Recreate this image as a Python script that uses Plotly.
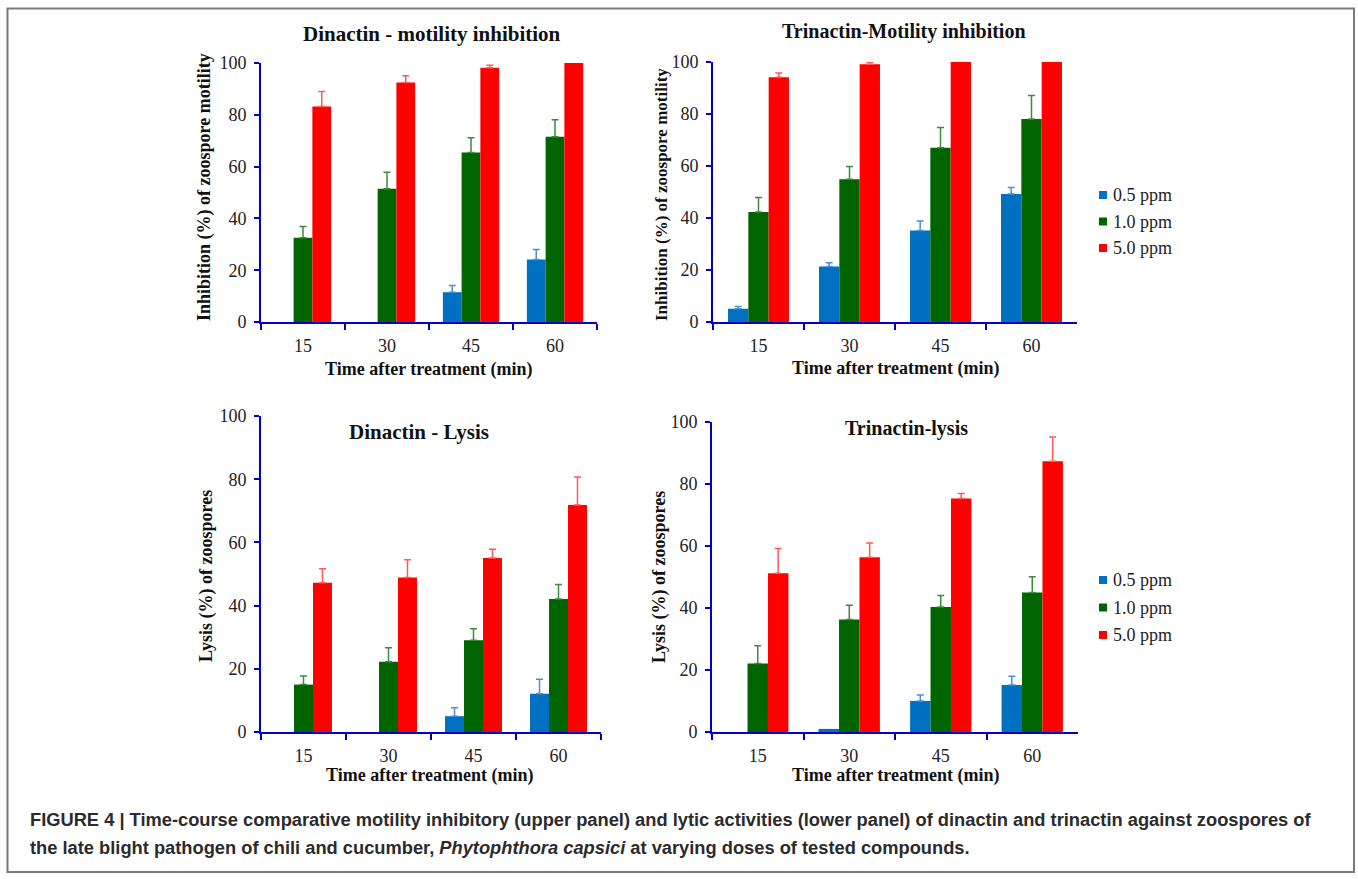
import numpy as np
import plotly.graph_objects as go

W, H = 1358, 879

# ---------------- data ----------------
times = ["15", "30", "45", "60"]
series = ["0.5 ppm", "1.0 ppm", "5.0 ppm"]

# Dinactin - motility inhibition
din_mot_05 = [0, 0, 11.5, 24.1]
din_mot_10 = [32.5, 51.4, 65.4, 71.5]
din_mot_50 = [83.2, 92.5, 98.2, 100]
din_mot_05_err = [None, None, 2.6, 3.9]
din_mot_10_err = [4.4, 6.4, 5.7, 6.6]
din_mot_50_err = [5.8, 2.6, 0.9, None]

# Trinactin - motility inhibition
tri_mot_05 = [5.1, 21.3, 35.2, 49.2]
tri_mot_10 = [42.3, 54.9, 67.0, 78.1]
tri_mot_50 = [94.1, 99.1, 100, 100]
tri_mot_05_err = [0.9, 1.5, 3.6, 2.5]
tri_mot_10_err = [5.6, 4.9, 7.8, 9.0]
tri_mot_50_err = [1.7, 0.8, None, None]

# Dinactin - lysis
din_lys_05 = [0, 0, 5.0, 12.1]
din_lys_10 = [15.0, 22.2, 29.0, 42.1]
din_lys_50 = [47.2, 48.9, 55.1, 71.8]
din_lys_05_err = [None, None, 2.7, 4.6]
din_lys_10_err = [2.7, 4.5, 3.7, 4.6]
din_lys_50_err = [4.5, 5.6, 2.7, 8.9]

# Trinactin - lysis
tri_lys_05 = [0, 1.0, 10.0, 15.2]
tri_lys_10 = [22.1, 36.3, 40.3, 45.0]
tri_lys_50 = [51.2, 56.4, 75.3, 87.3]
tri_lys_05_err = [None, None, 1.9, 2.8]
tri_lys_10_err = [5.7, 4.6, 3.7, 5.1]
tri_lys_50_err = [8.0, 4.6, 1.6, 7.9]

bar_colors = ["#0070C0", "#006400", "#FF0000"]
err_colors = ["#4A8FD0", "#3C8A3C", "#FF5A5A"]

panels = [
    dict(vals=[din_mot_05, din_mot_10, din_mot_50],
         errs=[din_mot_05_err, din_mot_10_err, din_mot_50_err],
         box=(261, 597, 63, 322)),
    dict(vals=[tri_mot_05, tri_mot_10, tri_mot_50],
         errs=[tri_mot_05_err, tri_mot_10_err, tri_mot_50_err],
         box=(713, 1077, 62, 322)),
    dict(vals=[din_lys_05, din_lys_10, din_lys_50],
         errs=[din_lys_05_err, din_lys_10_err, din_lys_50_err],
         box=(261, 601, 416, 732)),
    dict(vals=[tri_lys_05, tri_lys_10, tri_lys_50],
         errs=[tri_lys_05_err, tri_lys_10_err, tri_lys_50_err],
         box=(712, 1078, 422, 732)),
]


def px(x):
    return x / W


def py(y):
    return 1 - y / H


fig = go.Figure()
AXIS_BLUE = "#0000CC"
SERIF = "Liberation Serif"

for i, p in enumerate(panels):
    n = "" if i == 0 else str(i + 1)
    xa, ya = "x" + n, "y" + n
    for s, (name, v, e) in enumerate(zip(series, p["vals"], p["errs"])):
        plus = np.array(e, dtype=float)          # None -> NaN: no error bar drawn
        minus = np.where(np.isnan(plus), np.nan, 0.0)
        fig.add_trace(go.Bar(
            x=times, y=v, name=name, xaxis=xa, yaxis=ya,
            marker=dict(color=bar_colors[s], line=dict(width=0)),
            error_y=dict(type="data", array=plus, symmetric=False,
                         arrayminus=minus, color=err_colors[s],
                         thickness=1.5, width=3.5),
            showlegend=False,
        ))
    x0, x1, y0, y1 = p["box"]
    fig.layout["xaxis" + n] = dict(
        domain=[px(x0), px(x1)], anchor=ya, type="category",
        range=[-0.5, 3.5], tickson="boundaries", ticks="outside",
        ticklen=6, tickwidth=2, tickcolor=AXIS_BLUE,
        showline=True, linecolor=AXIS_BLUE, linewidth=2,
        showgrid=False, zeroline=False, ticklabelstandoff=6,
        automargin=False,
        tickfont=dict(family=SERIF, size=18, color="#222"),
    )
    fig.layout["yaxis" + n] = dict(
        domain=[py(y1), py(y0)], anchor=xa, range=[0, 100],
        tickvals=[0, 20, 40, 60, 80, 100], ticks="outside",
        ticklen=5, tickwidth=2, tickcolor=AXIS_BLUE,
        showline=True, linecolor=AXIS_BLUE, linewidth=2,
        showgrid=False, zeroline=False, ticklabelstandoff=4,
        automargin=False,
        tickfont=dict(family=SERIF, size=18, color="#222"),
    )

annotations = []


def text(x, y, t, size, angle=0, anchor="center", family=SERIF, color="#111"):
    annotations.append(dict(
        x=px(x), y=py(y), xref="paper", yref="paper", text=t, showarrow=False,
        textangle=angle, xanchor=anchor, yanchor="middle",
        font=dict(family=family, size=size, color=color),
    ))


# panel titles
text(432, 34, "<b>Dinactin - motility inhibition</b>", 21)
text(904, 32, "<b>Trinactin-Motility inhibition</b>", 20)
text(419, 432, "<b>Dinactin - Lysis</b>", 21)
text(906, 429, "<b>Trinactin-lysis</b>", 20)

# axis titles
text(205, 187, "<b>Inhibition (%) of zoospore motility</b>", 18, angle=-90)
text(662, 195, "<b>Inhibition (%) of zoospore motility</b>", 17, angle=-90)
text(206, 576, "<b>Lysis (%) of zoospores</b>", 18, angle=-90)
text(659, 577, "<b>Lysis (%) of zoospores</b>", 18, angle=-90)
text(428, 369, "<b>Time after treatment (min)</b>", 18)
text(895, 368, "<b>Time after treatment (min)</b>", 18)
text(429, 775, "<b>Time after treatment (min)</b>", 18)
text(895, 775, "<b>Time after treatment (min)</b>", 18)

# caption
CAP = "Liberation Sans"
text(28, 819, "<b>FIGURE 4 | Time-course comparative motility inhibitory (upper panel) and lytic "
     "activities (lower panel) of dinactin and trinactin against zoospores of</b>",
     18.3, anchor="left", family=CAP, color="#2b2b2b")
text(28, 847, "<b>the late blight pathogen of chili and cucumber, <i>Phytophthora capsici</i> "
     "at varying doses of tested compounds.</b>",
     18.3, anchor="left", family=CAP, color="#2b2b2b")

shapes = []
# legends (one per row of panels)
for y_start, step in [(195, 26.5), (580, 27.5)]:
    for s, name in enumerate(series):
        yc = y_start + s * step
        shapes.append(dict(type="rect", xref="paper", yref="paper",
                           x0=px(1099), x1=px(1107), y0=py(yc + 4), y1=py(yc - 4),
                           fillcolor=bar_colors[s], line=dict(width=0)))
        text(1111, yc, name, 18, anchor="left", color="#222")

# outer frame
shapes.append(dict(type="rect", xref="paper", yref="paper",
                   x0=px(7.5), x1=px(1354), y0=py(872), y1=py(8.5),
                   line=dict(color="#7a7a7a", width=2), fillcolor="rgba(0,0,0,0)"))

fig.update_layout(
    width=W, height=H, margin=dict(l=0, r=0, t=0, b=0, pad=0, autoexpand=False),
    paper_bgcolor="white", plot_bgcolor="white",
    barmode="group", bargap=0.33, bargroupgap=0,
    annotations=annotations, shapes=shapes, showlegend=False,
)

fig.write_html("out.html")
